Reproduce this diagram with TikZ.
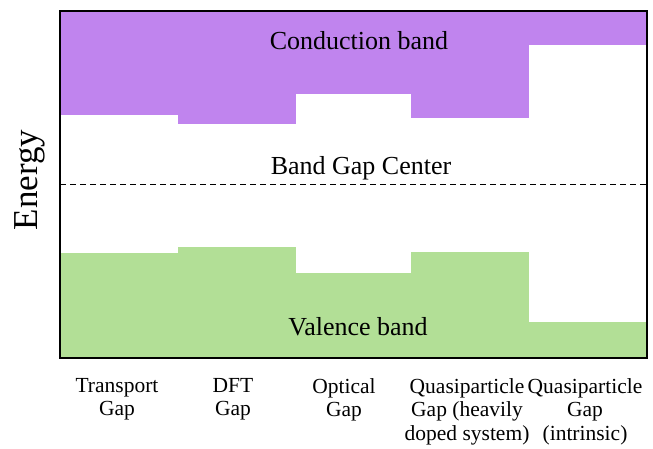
\documentclass[tikz,border=0pt]{standalone}
\usepackage{fontspec}
\setmainfont{Liberation Serif}
\definecolor{cbcol}{RGB}{192,132,238}
\definecolor{vbcol}{RGB}{178,223,150}
\def\cband#1#2#3{\fill[cbcol] (#1,437) rectangle (#2,#3);}
\def\vband#1#2#3{\fill[vbcol] (#1,90) rectangle (#2,#3);}
\tikzset{
  gaplabel/.style={anchor=north,inner sep=0pt,align=center,
    font=\fontsize{21.5}{23.5}\selectfont},
  bandlabel/.style={anchor=base,inner sep=0pt,font=\fontsize{26}{28}\selectfont}
}
\begin{document}
\begin{tikzpicture}[x=1pt,y=1pt]
  \useasboundingbox (0,0) rectangle (653,448);
  % bands, one column per gap definition
  \foreach \xa/\xb/\cb/\vb in {60/178/333/195,178/296/324/201,296/411/354/175,
                               411/529/330/196,529/647/403/126}{
    \cband{\xa}{\xb}{\cb}
    \vband{\xa}{\xb}{\vb}
  }
  \draw[dash pattern=on 6pt off 4pt] (60,264) -- (647,264);
  \draw[line width=2pt] (60,90) rectangle (647,437);
  \node[bandlabel] (cond) at (359,398) {Conduction band};
  \node[bandlabel] (mid) at (361,273) {Band Gap Center};
  \node[bandlabel] (val) at (358,113) {Valence band};
  \node[anchor=base,rotate=90,inner sep=0pt,font=\fontsize{35}{38}\selectfont]
    (energy) at (37,268) {Energy};
  \node[gaplabel] (transport) at (117,70) {Transport\\Gap};
  \node[gaplabel] (dft) at (233,70) {DFT\\Gap};
  \node[gaplabel] (optical) at (344,70) {Optical\\Gap};
  \node[gaplabel] (qpdoped) at (467,70) {Quasiparticle\\Gap (heavily\\doped system)};
  \node[gaplabel] (qpintr) at (585,70) {Quasiparticle\\Gap\\(intrinsic)};
\end{tikzpicture}
\end{document}
